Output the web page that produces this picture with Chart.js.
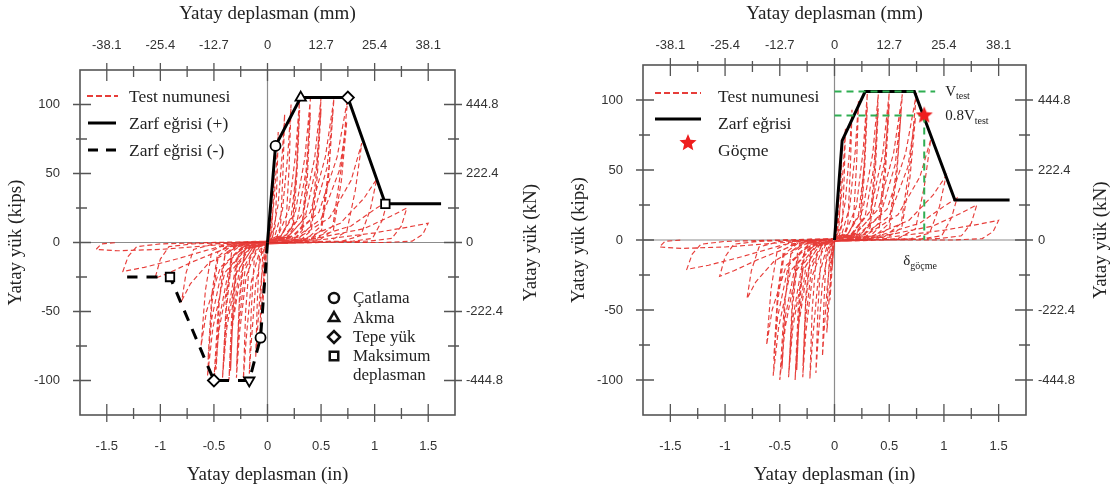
<!DOCTYPE html>
<html><head><meta charset="utf-8">
<script src="https://cdn.jsdelivr.net/npm/chart.js@4.4.1/dist/chart.umd.min.js"></script>
<style>
html,body{margin:0;padding:0;background:#fff;}
#wrap{position:relative;width:1115px;height:490px;overflow:hidden;background:#fff;}
#c1{position:absolute;left:0;top:0;}
#c2{position:absolute;left:555px;top:0;}
</style></head><body>
<div id="wrap"><canvas id="c1" width="555" height="490"></canvas><canvas id="c2" width="560" height="490"></canvas></div>
<script>
// ---------- tick labels ----------
const inTicks = [-1.5, -1, -0.5, 0, 0.5, 1, 1.5];
const mmLabels = ['-38.1', '-25.4', '-12.7', '0', '12.7', '25.4', '38.1'];
const kipTicks = [-100, -50, 0, 50, 100];
const knLabels = ['-444.8', '-222.4', '0', '222.4', '444.8'];

// ---------- envelope, left panel ----------
const envPosX = [0, 0.075, 0.31, 0.75, 1.10, 1.62];
const envPosY = [0, 70, 105, 105, 28, 28];
const envPosMarks = [false, 'circle', 'triangle', 'rectRot', 'rect', false];
const envNegX = [0, -0.065, -0.17, -0.50, -0.91, -1.31];
const envNegY = [0, -69, -100, -100, -25, -25];
const envNegMarks = [false, 'circle', 'triangle', 'rectRot', 'rect', false];

// ---------- envelope, right panel ----------
const envRX = [0, 0.07, 0.28, 0.73, 1.10, 1.60];
const envRY = [0, 71, 106, 106, 28.5, 28.5];
const vTestX = [0, 0.92], vTestY = [106, 106];
const v08X = [0, 0.85], v08Y = [89, 89];
const dropX = [0.82, 0.82], dropY = [89, 0];
const failX = [0.82], failY = [89];

// ---------- test specimen hysteresis (x in, y kips) ----------
const cyc01 = [[0,0],[0.01,9],[0.02,18],[0.014,7],[0.004,1],[-0.01,-9],[-0.021,-20],[-0.014,-7],[-0.004,-1]];
const cyc02 = [[0,0],[0.015,13],[0.03,29],[0.04,41],[0.033,19],[0.02,3],[0.002,0],[-0.015,-12],[-0.03,-30],[-0.042,-43],[-0.034,-18],[-0.02,-3],[0,0]];
const cyc03 = [[0.005,1],[0.022,11],[0.042,33],[0.056,53],[0.066,64],[0.056,34],[0.04,8],[0.02,1],[0,-1],[-0.02,-11],[-0.045,-36],[-0.06,-56],[-0.07,-66],[-0.06,-34],[-0.044,-8],[-0.02,-1]];
const cyc04 = [[0,1],[0.03,8],[0.062,31],[0.086,60],[0.10,80],[0.09,48],[0.072,12],[0.04,2],[0,-1],[-0.03,-8],[-0.066,-33],[-0.094,-64],[-0.11,-83],[-0.096,-44],[-0.076,-10],[-0.04,-2]];
const cyc05 = [[0,1],[0.05,7],[0.1,28],[0.14,67],[0.16,93],[0.146,54],[0.122,12],[0.08,2],[0,-1],[-0.05,-6],[-0.11,-30],[-0.15,-71],[-0.17,-95],[-0.152,-50],[-0.122,-10],[-0.07,-2]];
const cyc06 = [[0,1],[0.07,5],[0.14,24],[0.19,64],[0.22,100],[0.202,55],[0.172,12],[0.11,2],[0,-1],[-0.07,-5],[-0.15,-28],[-0.2,-71],[-0.225,-99],[-0.204,-50],[-0.165,-10],[-0.1,-2]];
const cyc07 = [[0,1],[0.1,5],[0.2,24],[0.262,64],[0.30,105],[0.272,56],[0.232,12],[0.15,2],[0,-1],[-0.1,-4],[-0.2,-25],[-0.262,-66],[-0.29,-98],[-0.264,-46],[-0.214,-8],[-0.12,-2]];
const cyc08 = [[0,1],[0.12,4],[0.22,18],[0.275,55],[0.30,96],[0.275,50],[0.238,10],[0.16,1],[0,-1],[-0.11,-3],[-0.21,-20],[-0.268,-60],[-0.288,-90],[-0.262,-40],[-0.216,-6],[-0.13,-1]];
const cyc09 = [[0,1],[0.13,5],[0.26,22],[0.35,62],[0.40,104],[0.37,55],[0.322,12],[0.22,2],[0,-1],[-0.12,-4],[-0.25,-22],[-0.33,-62],[-0.36,-100],[-0.332,-50],[-0.282,-10],[-0.18,-2]];
const cyc09b = [[0,1],[0.15,4],[0.28,17],[0.36,52],[0.40,94],[0.372,47],[0.326,9],[0.23,1],[0,-1],[-0.13,-3],[-0.26,-18],[-0.325,-55],[-0.345,-93],[-0.318,-44],[-0.27,-7],[-0.17,-1]];
const cyc10 = [[0,1],[0.17,5],[0.33,21],[0.44,61],[0.50,105],[0.462,55],[0.402,12],[0.28,2],[0,-1],[-0.14,-4],[-0.29,-22],[-0.38,-62],[-0.42,-98],[-0.384,-48],[-0.33,-10],[-0.22,-2]];
const cyc11 = [[0,1],[0.19,4],[0.35,18],[0.455,55],[0.50,97],[0.465,48],[0.41,9],[0.3,1],[0,-1],[-0.15,-3],[-0.3,-19],[-0.385,-58],[-0.415,-92],[-0.385,-42],[-0.335,-7],[-0.23,-1]];
const cyc12 = [[0,1],[0.2,5],[0.4,22],[0.54,62],[0.62,104],[0.574,55],[0.5,12],[0.36,2],[0,-1],[-0.17,-4],[-0.35,-22],[-0.45,-62],[-0.50,-100],[-0.46,-48],[-0.4,-10],[-0.28,-2]];
const cyc12b = [[0,1],[0.22,4],[0.42,18],[0.555,54],[0.61,94],[0.57,47],[0.505,9],[0.37,1],[0,-1],[-0.18,-3],[-0.36,-19],[-0.45,-55],[-0.48,-92],[-0.45,-42],[-0.395,-8],[-0.27,-1]];
const cyc13 = [[0,1],[0.25,5],[0.48,22],[0.65,62],[0.75,105],[0.69,55],[0.61,12],[0.45,2],[0,-1],[-0.2,-4],[-0.4,-22],[-0.51,-62],[-0.56,-97],[-0.52,-45],[-0.46,-10],[-0.33,-2]];
const cyc14 = [[0,1],[0.27,4],[0.5,17],[0.67,52],[0.74,88],[0.69,45],[0.615,9],[0.47,1],[0,-1],[-0.22,-3],[-0.42,-18],[-0.52,-55],[-0.555,-85],[-0.52,-38],[-0.465,-7],[-0.34,-1]];
const cyc15 = [[0,1],[0.3,4],[0.58,18],[0.78,45],[0.88,72],[0.82,38],[0.74,8],[0.58,1],[0,-1],[-0.22,-3],[-0.44,-18],[-0.57,-50],[-0.62,-75],[-0.58,-35],[-0.52,-6],[-0.38,-1]];
const cyc16 = [[0,1],[0.35,3],[0.68,14],[0.9,32],[1.02,46],[0.96,24],[0.87,5],[0.7,1],[0,-1],[-0.28,-3],[-0.55,-15],[-0.72,-30],[-0.8,-42],[-0.76,-22],[-0.69,-5],[-0.5,-1]];
const cyc17 = [[0,1],[0.4,3],[0.78,12],[1.0,24],[1.12,30],[1.07,16],[0.98,3],[0.8,1],[0,-1],[-0.35,-3],[-0.7,-14],[-0.92,-22],[-1.05,-26],[-1.0,-12],[-0.92,-3],[-0.7,-1]];
const cyc18 = [[0,1],[0.45,3],[0.9,10],[1.15,19],[1.3,25],[1.25,12],[1.16,3],[0.95,1],[0,-1],[-0.45,-3],[-0.85,-12],[-1.15,-18],[-1.35,-21],[-1.3,-10],[-1.22,-3],[-1.0,-1]];
const cyc19 = [[0,1],[0.5,2],[1.0,7],[1.3,11],[1.5,14],[1.45,6],[1.35,1],[1.1,0],[0,0],[-0.5,-2],[-1.0,-5],[-1.4,-6],[-1.6,-5],[-1.55,-1],[-1.4,0]];
const testCycles = [cyc01,cyc02,cyc03,cyc04,cyc05,cyc06,cyc07,cyc08,cyc09,cyc09b,cyc10,cyc11,cyc12,cyc12b,cyc13,cyc14,cyc15,cyc16,cyc17,cyc18,cyc19];

// ---------- helpers ----------
const SANS = '"Liberation Sans", Arial, sans-serif';
const SERIF = '"Liberation Serif", "Times New Roman", serif';
const RED = 'rgba(228,40,36,0.9)';
const GREEN = '#2fae52';
const zip = (xs, ys) => xs.map((x, i) => ({x: x, y: ys[i]}));
const testData = testCycles.flat().map(p => ({x: p[0], y: p[1]}));

function makeStar(r) {
  const c = document.createElement('canvas');
  c.width = c.height = 2 * r + 2;
  const g = c.getContext('2d');
  g.fillStyle = '#ee1d1d';
  g.beginPath();
  for (let i = 0; i < 10; i++) {
    const a = -Math.PI / 2 + i * Math.PI / 5;
    const rr = i % 2 ? r * 0.45 : r;
    g.lineTo(r + 1 + rr * Math.cos(a), r + 1 + rr * Math.sin(a));
  }
  g.closePath(); g.fill();
  return c;
}
const starImg = makeStar(9);
const starLegend = makeStar(9);

function line(ctx, x1, y1, x2, y2) { ctx.beginPath(); ctx.moveTo(x1, y1); ctx.lineTo(x2, y2); ctx.stroke(); }

const framePlugin = {
  id: 'frame',
  beforeDatasetsDraw(chart) {
    const {ctx, chartArea: a, scales} = chart;
    const x0 = scales.x.getPixelForValue(0), y0 = scales.y.getPixelForValue(0);
    ctx.save(); ctx.strokeStyle = '#8c8c8c'; ctx.lineWidth = 1.2;
    line(ctx, x0, a.top, x0, a.bottom);
    line(ctx, a.left, y0, a.right, y0);
    ctx.restore();
  },
  afterDatasetsDraw(chart) {
    const {ctx, chartArea: a, scales} = chart;
    ctx.save();
    ctx.strokeStyle = '#555'; ctx.lineWidth = 1.6;
    ctx.strokeRect(a.left, a.top, a.right - a.left, a.bottom - a.top);
    ctx.lineWidth = 1.3;
    ctx.beginPath();
    for (let k = -6; k <= 6; k++) {
      const px = scales.x.getPixelForValue(k * 0.25);
      const major = k % 2 === 0, i = major ? 11 : 7, o = major ? 7 : 4;
      ctx.moveTo(px, a.bottom + o); ctx.lineTo(px, a.bottom - i);
      ctx.moveTo(px, a.top - o); ctx.lineTo(px, a.top + i);
    }
    for (let k = -4; k <= 4; k++) {
      const py = scales.y.getPixelForValue(k * 25);
      const major = k % 2 === 0, i = major ? 11 : 7, o = major ? 7 : 4;
      ctx.moveTo(a.left - o, py); ctx.lineTo(a.left + i, py);
      ctx.moveTo(a.right + o, py); ctx.lineTo(a.right - i, py);
    }
    ctx.stroke();
    ctx.restore();
  },
  afterDraw(chart, args, opts) {
    // right-hand axis title, reading bottom-to-top like the left one
    const ctx = chart.ctx, a = chart.chartArea;
    ctx.save();
    ctx.translate(opts.titleX, (a.top + a.bottom) / 2);
    ctx.rotate(-Math.PI / 2);
    ctx.font = '19px ' + SERIF; ctx.fillStyle = '#222';
    ctx.textAlign = 'center'; ctx.textBaseline = 'middle';
    ctx.fillText('Yatay yük (kN)', 0, 0);
    ctx.restore();
  }
};

function drawMarker(ctx, style, x, y, r, rot) {
  if (Chart.helpers && Chart.helpers.drawPoint) {
    Chart.helpers.drawPoint(ctx, {pointStyle: style, radius: r, borderWidth: ctx.lineWidth, rotation: rot || 0}, x, y);
  }
}

function scalesFor(L) {
  const tickFont = {family: SANS, size: 13};
  const titleFont = {family: SERIF, size: 19};
  const common = {type: 'linear', grid: {display: false, drawTicks: false}, border: {display: false}};
  return {
    x: Object.assign({}, common, {
      position: 'bottom', min: -1.75, max: 1.75,
      afterBuildTicks: s => { s.ticks = inTicks.map(v => ({value: v})); },
      afterFit: s => { s.height = L.bottom; },
      ticks: {padding: L.bPad, color: '#333', font: tickFont, maxRotation: 0, autoSkip: false, callback: v => String(v)},
      title: {display: true, text: 'Yatay deplasman (in)', color: '#222', font: titleFont, padding: {top: 0, bottom: L.bTitle}}
    }),
    x2: Object.assign({}, common, {
      position: 'top', min: -1.75, max: 1.75,
      afterBuildTicks: s => { s.ticks = inTicks.map(v => ({value: v})); },
      afterFit: s => { s.height = L.top; },
      ticks: {padding: L.tPad, color: '#333', font: tickFont, maxRotation: 0, autoSkip: false, callback: (v, i) => mmLabels[i]},
      title: {display: true, text: 'Yatay deplasman (mm)', color: '#222', font: titleFont, padding: {top: L.tTitle, bottom: 0}}
    }),
    y: Object.assign({}, common, {
      position: 'left', min: -125, max: 125,
      afterBuildTicks: s => { s.ticks = kipTicks.map(v => ({value: v})); },
      afterFit: s => { s.width = L.left; },
      ticks: {padding: L.lPad, color: '#333', font: tickFont, autoSkip: false, callback: v => String(v)},
      title: {display: true, text: 'Yatay yük (kips)', color: '#222', font: titleFont, padding: {top: L.lTitle, bottom: 0}}
    }),
    y2: Object.assign({}, common, {
      position: 'right', min: -125, max: 125,
      afterBuildTicks: s => { s.ticks = kipTicks.map(v => ({value: v})); },
      afterFit: s => { s.width = L.right; },
      ticks: {padding: L.rPad, color: '#333', font: tickFont, autoSkip: false, callback: (v, i) => knLabels[i]},
      title: {display: false}
    })
  };
}

const testDataset = () => ({
  label: 'Test numunesi', data: testData, borderColor: RED, borderWidth: 1.15,
  borderDash: [5, 3], pointRadius: 0, fill: false, tension: 0, order: 5
});

// ---------- left chart ----------
const LEG = '17.5px ' + SERIF;
const leftAnnot = {
  id: 'leftAnnot',
  afterDraw(chart) {
    const ctx = chart.ctx;
    ctx.save();
    ctx.font = LEG; ctx.fillStyle = '#222'; ctx.textBaseline = 'middle'; ctx.textAlign = 'left';
    ctx.strokeStyle = RED; ctx.lineWidth = 1.8; ctx.setLineDash([6, 3]);
    line(ctx, 87, 96, 118, 96);
    ctx.fillText('Test numunesi', 129, 97);
    ctx.strokeStyle = '#000'; ctx.lineWidth = 3; ctx.setLineDash([]);
    line(ctx, 88, 123, 116, 123);
    ctx.fillText('Zarf eğrisi (+)', 129, 124);
    ctx.setLineDash([10, 8]);
    line(ctx, 88, 150, 116, 150);
    ctx.fillText('Zarf eğrisi (-)', 129, 151);
    ctx.setLineDash([]);
    ctx.font = '17px ' + SERIF;
    const rows = [['circle', 'Çatlama', 298], ['triangle', 'Akma', 318], ['rectRot', 'Tepe yük', 337], ['rect', 'Maksimum', 356]];
    rows.forEach(r => {
      ctx.fillStyle = '#fff'; ctx.strokeStyle = '#111'; ctx.lineWidth = 2.5;
      drawMarker(ctx, r[0], 334, r[2], r[0] === 'circle' ? 5 : 6);
      ctx.fillStyle = '#222';
      ctx.fillText(r[1], 353, r[2] + 1);
    });
    ctx.fillText('deplasman', 353, 376);
    ctx.restore();
  }
};

new Chart(document.getElementById('c1'), {
  type: 'line',
  data: {
    datasets: [
      {label: 'Zarf eğrisi (+)', data: zip(envPosX, envPosY), borderColor: '#000', borderWidth: 3, tension: 0,
       pointStyle: envPosMarks.map(m => m || 'circle'), pointRadius: envPosMarks.map(m => m ? (m === 'circle' ? 5 : 6) : 0),
       pointBackgroundColor: '#fff', pointBorderColor: '#000', pointBorderWidth: 1.8, order: 1},
      {label: 'Zarf eğrisi (-)', data: zip(envNegX, envNegY), borderColor: '#000', borderWidth: 3, borderDash: [11, 9], tension: 0,
       pointStyle: envNegMarks.map(m => m || 'circle'), pointRadius: envNegMarks.map(m => m ? (m === 'circle' ? 5 : 6) : 0),
       pointRotation: envNegMarks.map(m => m === 'triangle' ? 180 : 0),
       pointBackgroundColor: '#fff', pointBorderColor: '#000', pointBorderWidth: 1.8, order: 1},
      testDataset()
    ]
  },
  options: {
    responsive: false, animation: false,
    layout: {padding: 0},
    plugins: {legend: {display: false}, tooltip: {enabled: false}, frame: {titleX: 531}},
    scales: scalesFor({left: 80, right: 100, top: 70, bottom: 75, bPad: 24, tPad: 17, lPad: 20, rPad: 11,
                       bTitle: 4, tTitle: 3, lTitle: 5})
  },
  plugins: [framePlugin, leftAnnot]
});

// ---------- right chart ----------
const rightAnnot = {
  id: 'rightAnnot',
  afterDraw(chart) {
    const ctx = chart.ctx, s = chart.scales;
    ctx.save();
    ctx.font = LEG; ctx.fillStyle = '#222'; ctx.textBaseline = 'middle'; ctx.textAlign = 'left';
    ctx.strokeStyle = RED; ctx.lineWidth = 1.8; ctx.setLineDash([6, 3]);
    line(ctx, 100, 93, 146, 93);
    ctx.fillText('Test numunesi', 163, 97);
    ctx.strokeStyle = '#000'; ctx.lineWidth = 3; ctx.setLineDash([]);
    line(ctx, 100, 119, 146, 119);
    ctx.fillText('Zarf eğrisi', 163, 124);
    ctx.drawImage(starLegend, 133 - starLegend.width / 2, 143 - starLegend.height / 2);
    ctx.fillText('Göçme', 163, 151);
    // V_test labels
    const lx = s.x.getPixelForValue(vTestX[1]) + 10;
    const sub = (main, subtxt, x, y) => {
      ctx.font = '15px ' + SERIF; ctx.fillText(main, x, y);
      const w = ctx.measureText(main).width;
      ctx.font = '10px ' + SERIF; ctx.fillText(subtxt, x + w, y + 5);
    };
    sub('V', 'test', lx, s.y.getPixelForValue(vTestY[0]));
    sub('0.8V', 'test', lx, s.y.getPixelForValue(v08Y[0]) + 1);
    sub('δ', 'göçme', s.x.getPixelForValue(dropX[0]) - 21, s.y.getPixelForValue(0) + 21);
    ctx.restore();
  }
};

new Chart(document.getElementById('c2'), {
  type: 'line',
  data: {
    datasets: [
      {label: 'Göçme', data: zip(failX, failY), showLine: false, pointStyle: starImg, pointRadius: 9, order: 0},
      {label: 'Zarf eğrisi', data: zip(envRX, envRY), borderColor: '#000', borderWidth: 3, tension: 0, pointRadius: 0, order: 2},
      {label: 'Vtest', data: zip(vTestX, vTestY), borderColor: GREEN, borderWidth: 2, borderDash: [7, 5], pointRadius: 0, order: 1},
      {label: '0.8Vtest', data: zip(v08X, v08Y), borderColor: GREEN, borderWidth: 2, borderDash: [7, 5], pointRadius: 0, order: 1},
      {label: 'delta', data: zip(dropX, dropY), borderColor: GREEN, borderWidth: 2, borderDash: [7, 5], pointRadius: 0, order: 1},
      testDataset()
    ]
  },
  options: {
    responsive: false, animation: false,
    layout: {padding: 0},
    plugins: {legend: {display: false}, tooltip: {enabled: false}, frame: {titleX: 546}},
    scales: scalesFor({left: 88, right: 89, top: 65, bottom: 75, bPad: 24, tPad: 12, lPad: 20, rPad: 12,
                       bTitle: 4, tTitle: 3, lTitle: 13})
  },
  plugins: [framePlugin, rightAnnot]
});
</script>
</body></html>
